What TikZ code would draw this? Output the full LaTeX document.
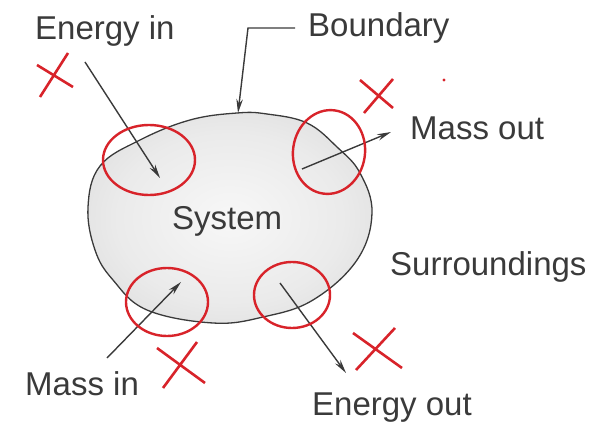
\documentclass[tikz,border=0pt]{standalone}
\usepackage{fontspec}
\setmainfont{Liberation Sans}
\usetikzlibrary{arrows.meta}
\definecolor{ink}{HTML}{3A3A3A}
\definecolor{redmark}{HTML}{D8232A}
\pgfdeclareradialshading{blobshade}{\pgfpoint{0bp}{0bp}}{%
  color(0bp)=(black!3); color(20bp)=(black!8); color(38bp)=(black!16); color(50bp)=(black!22)}
\tikzset{
  lbl/.style={anchor=base west,inner sep=0pt,text=ink,font=\fontsize{33}{36}\selectfont},
  arr/.style={draw=ink,line width=1.4pt,-{Stealth[length=14pt,width=6.5pt]}},
  ring/.style={draw=redmark,line width=2.4pt},
  cross/.style={draw=redmark,line width=2.6pt}
}
\begin{document}
\begin{tikzpicture}[x=1pt,y=-1pt]
\useasboundingbox (0,0) rectangle (597,425);
% system blob
\shade[shading=blobshade,draw=ink,line width=1.3pt]
  plot[smooth cycle,tension=0.65] coordinates{
   (237,113) (267,114) (307,123) (337,147) (360,173) (372,213) (357,260)
   (313,300) (263,317) (213,323) (147,310) (113,280) (95,250) (88,207)
   (100,166) (140,140) (190,120)};
% labels
\node[lbl] (ein) at (35,40) {Energy in};
\node[lbl] (bnd) at (308,37) {Boundary};
\node[lbl] (mout) at (410,140) {Mass out};
\node[lbl] (sys) at (172,229) {System};
\node[lbl] (sur) at (390,275) {Surroundings};
\node[lbl] (min) at (25,395) {Mass in};
\node[lbl] (eout) at (312,415) {Energy out};
% arrow coordinates
\coordinate (a1) at (85,62);   \coordinate (b1) at (160,178);
\coordinate (a2) at (302,169); \coordinate (b2) at (391,132);
\coordinate (a3) at (107,358); \coordinate (b3) at (181,282);
\coordinate (a4) at (280,283); \coordinate (b4) at (346,373);
\coordinate (bs) at (295,28);  \coordinate (bk) at (248,28); \coordinate (bt) at (238,113);
\draw[arr] (a1) -- (b1);
\draw[arr] (a2) -- (b2);
\draw[arr] (a3) -- (b3);
\draw[arr] (a4) -- (b4);
\draw[arr] (bs) -- (bk) -- (bt);
% red rings
\draw[ring] (149,160) ellipse[x radius=46,y radius=35];
\draw[ring,rotate around={-8:(329,152)}] (329,152) ellipse[x radius=36,y radius=42];
\draw[ring] (167,302) ellipse[x radius=41,y radius=34];
\draw[ring] (292,295) ellipse[x radius=38,y radius=33];
% red crosses
\draw[cross] (40,97) -- (68,53) (37,65) -- (73,87);
\draw[cross] (360,80) -- (393,108) (393,79) -- (364,113);
\draw[cross] (157,348) -- (205,383) (197,342) -- (163,388);
\draw[cross] (353,333) -- (402,368) (395,328) -- (356,370);
\fill[redmark] (444,80) circle[radius=1.6];
\end{tikzpicture}
\end{document}
